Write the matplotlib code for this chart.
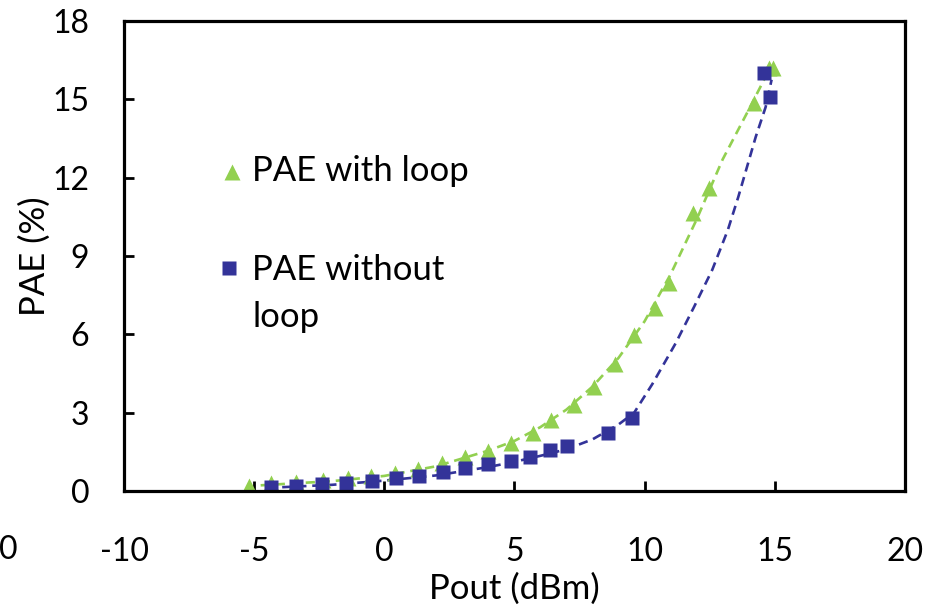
import matplotlib
matplotlib.use('Agg')
import matplotlib.pyplot as plt

plt.rcParams['font.family'] = ['Lato', 'DejaVu Sans']
plt.rcParams['font.size'] = 23
plt.rcParams['axes.unicode_minus'] = False

# PAE with loop (markers)
with_x = [-5.2, -4.35, -3.4, -2.35, -1.4, -0.5, 0.42, 1.3, 2.2, 3.1, 4.0, 4.85,
          5.7, 6.42, 7.27, 8.04, 8.85, 9.6, 10.4, 10.95, 11.85, 12.46, 14.2, 14.77, 14.92]
with_y = [0.2, 0.3, 0.35, 0.42, 0.5, 0.57, 0.69, 0.84, 1.07, 1.3, 1.53, 1.84,
          2.22, 2.72, 3.3, 3.98, 4.85, 5.97, 7.0, 7.97, 10.65, 11.6, 14.87, 16.2, 16.2]

# PAE without loop (markers)
without_x = [-4.35, -3.4, -2.4, -1.47, -0.47, 0.45, 1.35, 2.24, 3.1, 4.0, 4.85,
             5.58, 6.38, 7.03, 8.58, 9.5, 14.58, 14.8]
without_y = [0.15, 0.19, 0.27, 0.31, 0.38, 0.5, 0.57, 0.73, 0.88, 1.03, 1.15,
             1.3, 1.57, 1.72, 2.22, 2.8, 16.0, 15.1]

# dashed trend lines
with_fit_x = [-4.75, -2, 0, 2, 4, 5, 6, 7, 8, 9, 10, 11, 12, 13, 14, 14.77]
with_fit_y = [0.22, 0.38, 0.58, 0.95, 1.55, 1.92, 2.45, 3.12, 4.0, 5.1, 6.5, 8.3,
              10.4, 12.7, 14.6, 16.1]
without_fit_x = [-4.5, -2, 0, 2, 4, 5, 6, 7, 8, 9, 9.6, 10.3, 11.2, 11.9, 12.6,
                 13.2, 13.6, 14.27, 14.65, 14.88]
without_fit_y = [0.12, 0.24, 0.4, 0.6, 0.92, 1.12, 1.35, 1.6, 1.98, 2.55, 3.0, 4.1,
                 5.67, 7.05, 8.47, 10.0, 11.26, 13.56, 14.7, 15.75]

x_ticks = [-10, -5, 0, 5, 10, 15, 20]
y_ticks = [0, 3, 6, 9, 12, 15, 18]

green = '#92D050'
blue = '#333399'

fig = plt.figure(figsize=(9.29, 6.07), dpi=100)
ax = fig.add_axes([0.1335, 0.191, 0.8405, 0.7744])

ax.plot(with_fit_x, with_fit_y, color=green, lw=1.9, dashes=(3.5, 2.2))
ax.plot(without_fit_x, without_fit_y, color=blue, lw=1.9, dashes=(3.5, 2.2))
ax.plot(with_x, with_y, '^', color=green, ms=11, mec='none')
ax.plot(without_x, without_y, 's', color=blue, ms=10, mec='none')

ax.set_xlim(-10, 20)
ax.set_ylim(0, 18)
ax.set_xticks(x_ticks)
ax.set_yticks(y_ticks)
ax.tick_params(direction='in', length=7, width=2, pad=33, axis='x')
ax.tick_params(direction='in', length=7, width=2, pad=25, axis='y')
for s in ax.spines.values():
    s.set_linewidth(2.3)
ax.set_xlabel('Pout (dBm)', fontsize=25, labelpad=4)
ax.set_ylabel('PAE (%)', fontsize=25, labelpad=1)

# legend drawn by hand, as in the original
ax.plot([0.138], [0.679], '^', color=green, ms=11, mec='none', transform=ax.transAxes, clip_on=False)
ax.text(0.164, 0.681, 'PAE with loop', transform=ax.transAxes, va='center', ha='left', fontsize=25)
ax.plot([0.134], [0.474], 's', color=blue, ms=10, mec='none', transform=ax.transAxes, clip_on=False)
ax.text(0.164, 0.505, 'PAE without\nloop', transform=ax.transAxes, va='top', ha='left',
        fontsize=25, linespacing=1.6)

# clipped tick label at the left edge of the original image
fig.text(8 / 929, 1 - 550 / 607, '0', ha='center', va='center')

fig.savefig('out.png', dpi=100)
